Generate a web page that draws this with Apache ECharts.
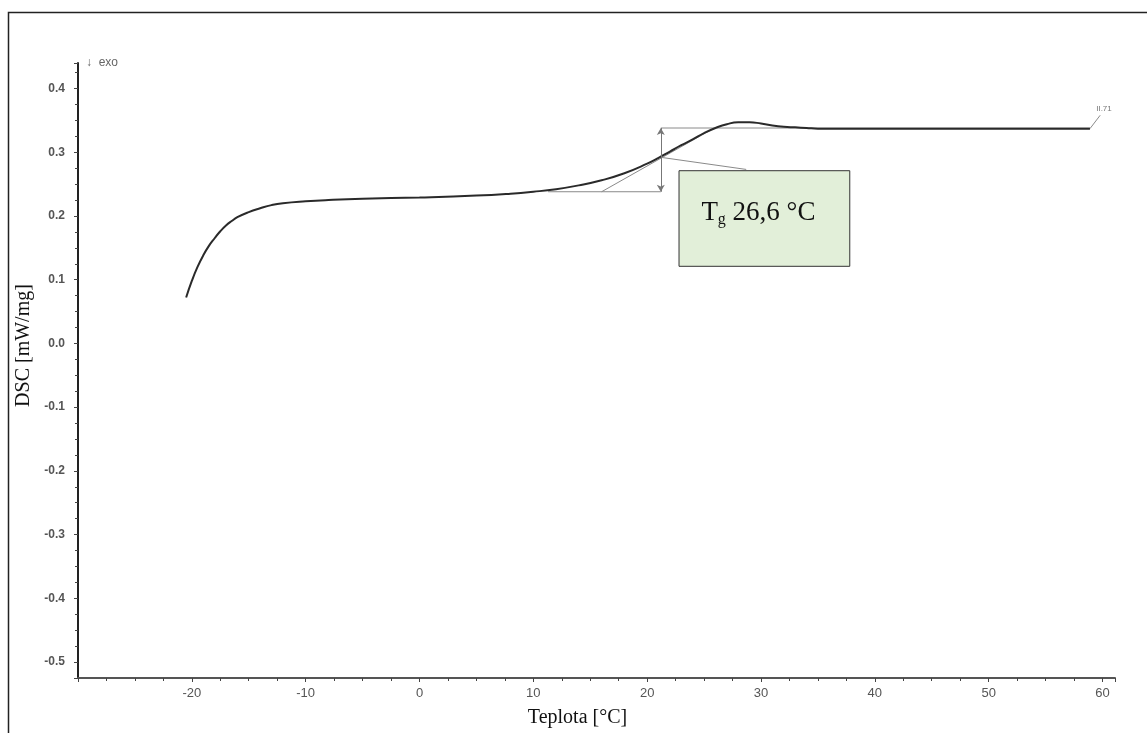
<!DOCTYPE html>
<html>
<head>
<meta charset="utf-8">
<script src="https://cdn.jsdelivr.net/npm/echarts@6/dist/echarts.min.js"></script>
<style>
  html, body { margin: 0; padding: 0; background: #fff; }
  #chart { width: 1147px; height: 733px; }
</style>
</head>
<body>
<div id="chart"></div>
<script>
// DSC curve
const temperature = [-20.5, -20, -19.5, -19, -18.5, -18, -17.5, -17, -16.5, -16, -15, -14, -13, -12, -10, -8, -5, 0, 5, 8, 10, 12, 14, 16, 18, 20, 21, 22, 23, 24, 25, 26, 27, 28, 29, 30, 31, 32, 33, 34, 35, 37, 40, 45, 50, 55, 58.9];
const dsc = [0.072, 0.098, 0.120, 0.138, 0.153, 0.165, 0.176, 0.185, 0.192, 0.198, 0.206, 0.212, 0.217, 0.220, 0.223, 0.225, 0.227, 0.229, 0.232, 0.235, 0.238, 0.242, 0.248, 0.256, 0.267, 0.282, 0.291, 0.301, 0.311, 0.320, 0.330, 0.338, 0.344, 0.347, 0.347, 0.345, 0.342, 0.340, 0.339, 0.338, 0.337, 0.337, 0.337, 0.337, 0.337, 0.337, 0.337];

// glass transition construction
const baseline = [[11.3, 0.238], [21.2, 0.238]];
const upperLine = [[21.2, 0.338], [58.9, 0.338]];
const inflectionTangent = [[16.0, 0.238], [25.9, 0.338]];
const stepArrow = [[21.2, 0.238], [21.2, 0.338]];
const leader = [[21.2, 0.292], [28.7, 0.273]];
const endMark = [[58.9, 0.337], [59.8, 0.358]];
const endMarkText = 'II.71';
const labelBox = [[22.8, 0.271], [37.8, 0.121]];
const tgLabel = 'T{sub|g} 26,6 °C';

const xName = 'Teplota [°C]';
const yName = 'DSC [mW/mg]';
const exoText = '↓  exo';

const chart = echarts.init(document.getElementById('chart'), null, { renderer: 'canvas' });

const helper = { type: 'line', symbol: 'none', silent: true, lineStyle: { color: '#8a8a8a', width: 1 }, z: 2 };

chart.setOption({
  animation: false,
  backgroundColor: '#fff',
  grid: { left: 78, right: 32, top: 63, bottom: 54 },
  graphic: [
    { type: 'polyline', shape: { points: [[8.5, 740], [8.5, 12.5], [1150, 12.5]] }, style: { stroke: '#222', lineWidth: 1.5, fill: null } },
    { type: 'text', left: 86, top: 57, style: { text: exoText, fill: '#666', font: '12px "Liberation Sans", Arial' } }
  ],
  xAxis: {
    type: 'value', min: -30, max: 61.1, interval: 10,
    name: xName, nameLocation: 'middle', nameGap: 30,
    nameTextStyle: { fontFamily: '"Liberation Serif", "Times New Roman"', fontSize: 20, color: '#111', padding: [0, 38, 0, 0] },
    axisLine: { onZero: false, lineStyle: { color: '#555', width: 2 } },
    axisTick: { length: 4, lineStyle: { color: '#444' } },
    minorTick: { show: true, splitNumber: 4, length: 3, lineStyle: { color: '#444' } },
    axisLabel: { showMinLabel: false, showMaxLabel: false, margin: 9, color: '#555', fontFamily: '"Liberation Sans Narrow", "Liberation Sans", Arial', fontSize: 13 },
    splitLine: { show: false }
  },
  yAxis: {
    type: 'value', min: -0.525, max: 0.44, splitNumber: 10,
    name: yName, nameLocation: 'middle', nameGap: 42,
    nameTextStyle: { fontFamily: '"Liberation Serif", "Times New Roman"', fontSize: 20, color: '#111', padding: [0, 0, 0, 50] },
    axisLine: { onZero: false, lineStyle: { color: '#222', width: 2 } },
    axisTick: { length: 4, lineStyle: { color: '#444' } },
    minorTick: { show: true, splitNumber: 4, length: 3, lineStyle: { color: '#444' } },
    axisLabel: { showMinLabel: false, showMaxLabel: false, margin: 13, color: '#555', fontFamily: '"Liberation Sans", Arial', fontSize: 12, fontWeight: 'bold', formatter: v => v.toFixed(1) },
    splitLine: { show: false }
  },
  series: [
    Object.assign({}, helper, { data: baseline }),
    Object.assign({}, helper, { data: upperLine }),
    Object.assign({}, helper, { data: inflectionTangent }),
    Object.assign({}, helper, { data: leader }),
    Object.assign({}, helper, {
      data: endMark,
      endLabel: { show: true, formatter: endMarkText, fontSize: 8, color: '#777', offset: [-12, -6] }
    }),
    Object.assign({}, helper, {
      data: [],
      markLine: {
        silent: true, symbol: ['arrow', 'arrow'], symbolSize: [6, 7],
        label: { show: false },
        lineStyle: { color: '#777', width: 1, type: 'solid' },
        data: [[{ coord: stepArrow[0] }, { coord: stepArrow[1] }]]
      },
      markArea: {
        silent: true,
        itemStyle: { color: '#e2efd9', borderColor: '#333', borderWidth: 1 },
        label: {
          show: true, position: 'inside', offset: [-6, -6],
          formatter: tgLabel,
          fontFamily: '"Liberation Serif", "Times New Roman"', fontSize: 27, color: '#111',
          rich: { sub: { fontFamily: '"Liberation Serif", "Times New Roman"', fontSize: 16, color: '#111', verticalAlign: 'bottom', padding: [14, 0, 0, 0] } }
        },
        data: [[{ coord: labelBox[0] }, { coord: labelBox[1] }]]
      }
    }),
    {
      type: 'line', symbol: 'none', smooth: 0.5, silent: true, z: 3,
      lineStyle: { color: '#2a2a2a', width: 2 },
      data: temperature.map((t, i) => [t, dsc[i]])
    }
  ]
});
</script>
</body>
</html>
